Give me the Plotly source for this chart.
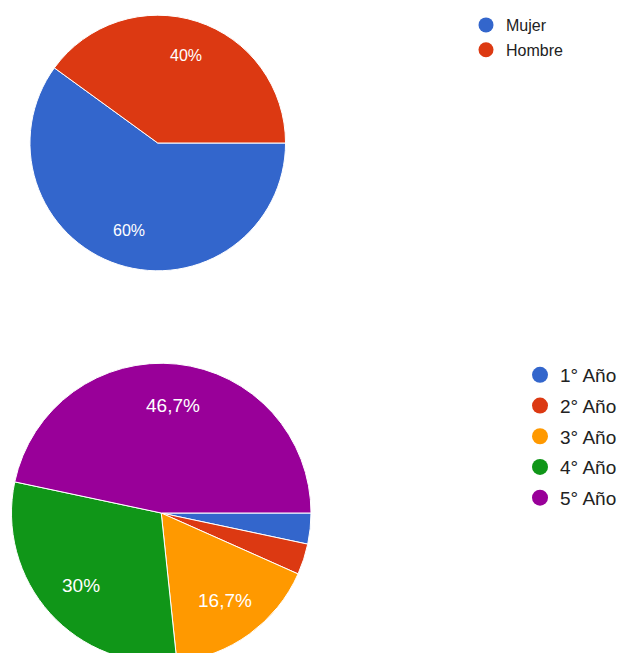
import math
import plotly.graph_objects as go

# ---- data ----
sexo_labels = ["Mujer", "Hombre"]
sexo_values = [18, 12]

anio_labels = ["1° Año", "2° Año", "3° Año", "4° Año", "5° Año"]
anio_values = [1, 1, 5, 9, 14]

sexo_colors = ["#3366cc", "#dc3912"]
anio_colors = ["#3366cc", "#dc3912", "#ff9900", "#109618", "#990099"]

W, H = 622, 663
FONT = "Liberation Sans, Arial, sans-serif"
LABEL_MIN_FRAC = 0.05   # slices smaller than this get no label
LABEL_RADIUS = 0.72     # label distance from centre, as a fraction of radius


def pct_text(frac):
    s = f"{frac * 100:.1f}"
    if s.endswith(".0"):
        s = s[:-2]
    return s.replace(".", ",") + "%"


fig = go.Figure()

annotations = []


def add_pie(labels, values, colors, cx, cy, r, font_size):
    fig.add_trace(go.Pie(
        labels=labels, values=values, sort=False,
        direction="clockwise", rotation=90,
        marker=dict(colors=colors, line=dict(color="white", width=1)),
        textinfo="none",
        domain=dict(x=[(cx - r) / W, (cx + r) / W],
                    y=[max(0, 1 - (cy + r) / H), min(1, 1 - (cy - r) / H)]),
        showlegend=False, hoverinfo="label+percent",
    ))
    total = sum(values)
    cum = 0.0
    for v in values:
        frac = v / total
        mid = (cum + frac / 2) * 2 * math.pi  # clockwise from 3 o'clock
        cum += frac
        if frac < LABEL_MIN_FRAC:
            continue
        px = cx + LABEL_RADIUS * r * math.cos(mid)
        py = cy + LABEL_RADIUS * r * math.sin(mid)
        annotations.append(dict(
            x=px / W, y=1 - py / H, xref="paper", yref="paper",
            text=pct_text(frac), showarrow=False,
            xanchor="center", yanchor="middle",
            font=dict(color="white", size=font_size, family=FONT),
        ))


add_pie(sexo_labels, sexo_values, sexo_colors, 158, 143, 128, 16)
add_pie(anio_labels, anio_values, anio_colors, 161.5, 513, 150, 19)

# legend entries (circle markers)
for lbl, col in zip(sexo_labels, sexo_colors):
    fig.add_trace(go.Scatter(x=[None], y=[None], mode="markers", name=lbl,
                             marker=dict(size=15, color=col),
                             legend="legend", legendgroup=lbl, hoverinfo="skip"))
for lbl, col in zip(anio_labels, anio_colors):
    fig.add_trace(go.Scatter(x=[None], y=[None], mode="markers", name=lbl,
                             marker=dict(size=19, color=col),
                             legend="legend2", legendgroup=lbl, hoverinfo="skip"))

fig.update_layout(
    width=W, height=H,
    margin=dict(l=0, r=0, t=0, b=0),
    paper_bgcolor="white", plot_bgcolor="white",
    separators=",.",
    font=dict(family=FONT, color="#222222"),
    xaxis=dict(visible=False), yaxis=dict(visible=False),
    annotations=annotations,
    legend=dict(x=466 / W, y=1 - 8 / H, xanchor="left", yanchor="top",
                font=dict(size=16, color="#222222", family=FONT),
                tracegroupgap=1, bgcolor="rgba(0,0,0,0)"),
    legend2=dict(x=521 / W, y=1 - 356 / H, xanchor="left", yanchor="top",
                 font=dict(size=19, color="#222222", family=FONT),
                 tracegroupgap=3, bgcolor="rgba(0,0,0,0)"),
)

fig.write_html("out.html", config={"displayModeBar": False},
               post_script="document.body.style.margin='0';document.body.style.overflow='hidden';document.documentElement.style.overflow='hidden';")
